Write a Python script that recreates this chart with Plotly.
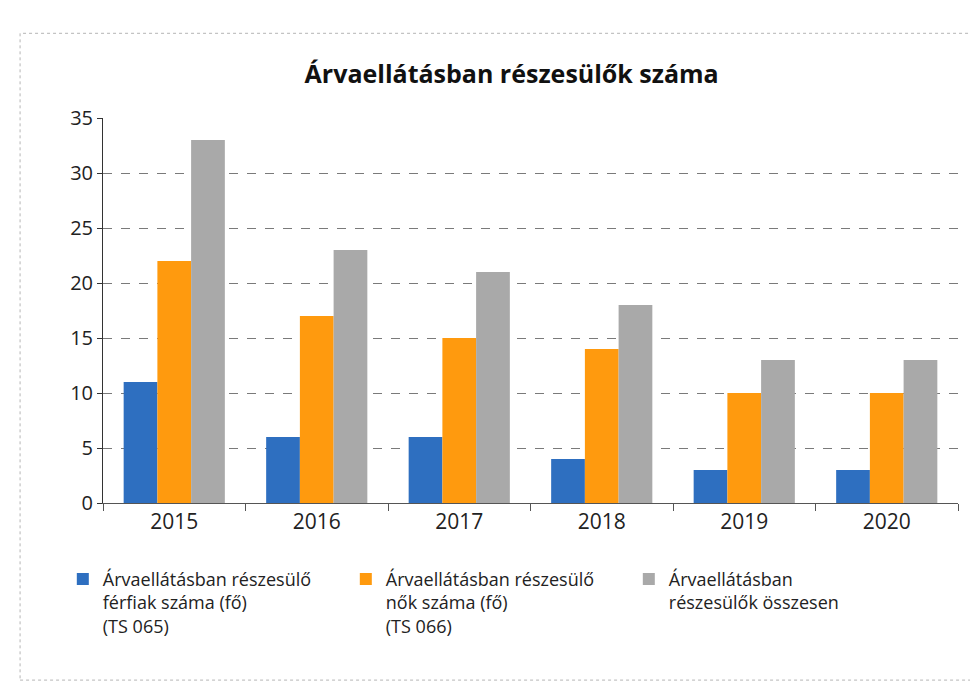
import plotly.graph_objects as go

years = ["2015", "2016", "2017", "2018", "2019", "2020"]
men = [11, 6, 6, 4, 3, 3]
women = [22, 17, 15, 14, 10, 10]
total = [33, 23, 21, 18, 13, 13]

names = [
    "Árvaellátásban részesülő<br>férfiak száma (fő)<br>(TS 065)",
    "Árvaellátásban részesülő<br>nők száma (fő)<br>(TS 066)",
    "Árvaellátásban<br>részesülők összesen",
]
colors = ["#2E6FC0", "#FF9A0E", "#A9A9A9"]

FONT = "'Open Sans', sans-serif"

fig = go.Figure()
for vals, name, col in zip([men, women, total], names, colors):
    fig.add_trace(go.Bar(x=years, y=vals, name=name, marker=dict(color=col, line=dict(width=0))))

fig.update_layout(
    width=978, height=697,
    paper_bgcolor="white", plot_bgcolor="white",
    font=dict(family=FONT, color="#222", size=18),
    title=dict(text="<b>Árvaellátásban részesülők száma</b>", x=0.515, xanchor="center",
               y=0.905, yanchor="middle", font=dict(size=25, color="#111")),
    margin=dict(l=95, r=28, t=110, b=202),
    barmode="group", bargap=0.29, bargroupgap=0.0,
    showlegend=True,
    legend=dict(orientation="h", x=-0.047, xanchor="left", y=-0.15, yanchor="top",
                entrywidth=238, entrywidthmode="pixels", valign="top",
                font=dict(size=18, color="#222"), traceorder="normal"),
    shapes=[dict(type="rect", xref="paper", yref="paper", x0=-0.097, x1=1.03, y0=-0.46, y1=1.22,
                 line=dict(color="#b5b5b5", width=1, dash="dot"))],
)
fig.update_xaxes(showline=True, linecolor="#555", linewidth=1, ticks="outside", tickson="boundaries",
                 ticklen=7, tickcolor="#555", tickfont=dict(size=21, color="#222"), showgrid=False)
fig.update_yaxes(range=[0, 35], dtick=5, showline=True, linecolor="#333", linewidth=1,
                 ticks="outside", ticklen=5, tickcolor="#333",
                 gridcolor="#7a7a7a", gridwidth=1, griddash="dash", zeroline=False,
                 tickfont=dict(size=20, color="#222"))

fig.write_html("out.html")
